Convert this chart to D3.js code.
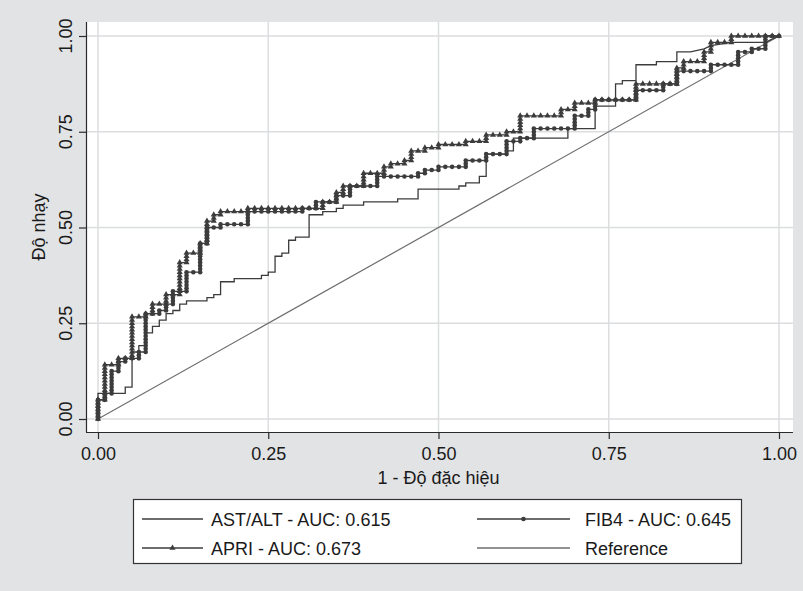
<!DOCTYPE html>
<html>
<head>
<meta charset="utf-8">
<script src="https://cdn.jsdelivr.net/npm/d3@7"></script>
<style>
  body { margin: 0; background: #e2e3e5; }
  text { font-family: "Liberation Sans", Arial, sans-serif; fill: #1a1a1a; }
</style>
</head>
<body>
<div id="chart"></div>
<script>
// number of negatives / positives (one ROC step = one subject)
const nNeg = 100, nPos = 120;

// ROC corners as [false positives, true positives]
const astAltCorners = [[0,0],[0,8],[4,8],[4,10],[5,10],[5,21],[6,21],[6,23],[7,23],[7,27],[8,27],[8,29],[9,29],[9,31],[10,31],[10,33],[11,33],[11,34],[12,34],[12,36],[13,36],[13,37],[16,37],[16,38],[17,38],[17,39],[18,39],[18,43],[20,43],[20,44],[24,44],[24,45],[25,45],[25,46],[26,46],[26,51],[27,51],[27,52],[28,52],[28,56],[29,56],[29,57],[31,57],[31,64],[33,64],[33,65],[35,65],[35,66],[36,66],[36,67],[39,67],[39,68],[44,68],[44,69],[47,69],[47,72],[53,72],[53,73],[54,73],[54,74],[56,74],[56,76],[57,76],[57,83],[60,83],[60,84],[61,84],[61,88],[69,88],[69,91],[73,91],[73,98],[76,98],[76,105],[77,105],[77,106],[79,106],[79,111],[82,111],[82,112],[85,112],[85,115],[87,115],[89,116],[90,117],[93,118],[98,118],[99,119],[100,120]];

const fib4Corners = [[0,0],[0,6],[1,6],[1,8],[2,8],[2,15],[3,15],[3,18],[4,18],[4,19],[6,19],[6,21],[7,21],[7,33],[9,33],[9,34],[10,34],[10,36],[11,36],[11,40],[13,40],[13,46],[15,46],[15,55],[16,55],[16,60],[18,60],[18,61],[22,61],[22,65],[30,65],[30,66],[32,66],[32,68],[35,68],[35,70],[37,70],[37,73],[41,73],[41,76],[47,76],[47,77],[48,77],[48,78],[50,78],[50,79],[54,79],[54,81],[57,81],[57,83],[60,83],[60,87],[62,87],[62,88],[64,88],[64,91],[70,91],[70,95],[72,95],[72,97],[73,97],[73,100],[79,100],[79,103],[83,103],[83,105],[85,105],[85,109],[90,109],[90,111],[94,111],[94,115],[96,115],[96,116],[98,116],[98,120],[100,120]];

const apriCorners = [[0,0],[0,6],[1,6],[1,17],[3,17],[3,19],[5,19],[5,32],[7,32],[7,33],[8,33],[8,36],[10,36],[10,39],[12,39],[12,49],[13,49],[13,52],[15,52],[15,55],[16,55],[16,62],[17,62],[17,64],[18,64],[18,65],[22,65],[22,66],[33,66],[33,68],[35,68],[35,71],[36,71],[36,73],[39,73],[39,77],[42,77],[42,79],[43,79],[43,80],[45,80],[45,81],[46,81],[46,84],[48,84],[48,85],[50,85],[50,86],[54,86],[54,87],[57,87],[57,89],[60,89],[60,90],[62,90],[62,95],[68,95],[68,97],[70,97],[70,99],[73,99],[73,100],[79,100],[79,105],[85,105],[85,110],[86,110],[86,112],[89,112],[89,115],[90,115],[90,118],[93,118],[93,120],[100,120]];

const tickValues = [0, 0.25, 0.5, 0.75, 1];
const legendLabels = ["AST/ALT - AUC: 0.615", "FIB4 - AUC: 0.645", "APRI - AUC: 0.673", "Reference"];

const W = 803, H = 591;
const curveColor = "#3c3c3c";
const fontSize = 18;

const svg = d3.select("#chart").append("svg")
    .attr("width", W)
    .attr("height", H);

svg.append("rect").attr("width", W).attr("height", H).attr("fill", "#e2e3e5");

// plot region
const region = {left: 86, right: 793, top: 22, bottom: 432};
const x = d3.scaleLinear().domain([0, 1]).range([98, 779]);
const y = d3.scaleLinear().domain([0, 1]).range([419, 36]);

svg.append("rect")
    .attr("x", region.left).attr("y", region.top)
    .attr("width", region.right - region.left)
    .attr("height", region.bottom - region.top)
    .attr("fill", "#ffffff");

// grid
svg.append("g").selectAll("line")
    .data(tickValues).enter().append("line")
    .attr("x1", d => x(d)).attr("x2", d => x(d))
    .attr("y1", region.top).attr("y2", region.bottom)
    .attr("stroke", "#dcdddf").attr("stroke-width", 1.5);
svg.append("g").selectAll("line")
    .data(tickValues).enter().append("line")
    .attr("y1", d => y(d)).attr("y2", d => y(d))
    .attr("x1", region.left).attr("x2", region.right)
    .attr("stroke", "#dcdddf").attr("stroke-width", 1.5);

// axes
const fmt = d3.format(".2f");
const xAxis = svg.append("g")
    .attr("transform", "translate(0," + region.bottom + ")")
    .call(d3.axisBottom(x).tickValues(tickValues).tickFormat(fmt).tickSize(7).tickPadding(8));
xAxis.select(".domain").attr("d", "M" + region.left + ",0.5H" + region.right);

const yAxis = svg.append("g")
    .attr("transform", "translate(" + region.left + ",0)")
    .call(d3.axisLeft(y).tickValues(tickValues).tickFormat(fmt).tickSize(7).tickPadding(6));
yAxis.select(".domain").attr("d", "M0.5," + region.top + "V" + region.bottom);

svg.selectAll(".domain, .tick line").attr("stroke", "#2a2a2a").attr("stroke-width", 1.2);
svg.selectAll(".tick text").attr("font-size", fontSize).attr("fill", "#1a1a1a")
    .style("font-family", "'Liberation Sans', Arial, sans-serif");

// y tick labels are rotated, centred on their tick
yAxis.selectAll(".tick").attr("transform", null);
yAxis.selectAll(".tick line").attr("transform", d => "translate(0," + (y(d) + 0.5) + ")");
yAxis.selectAll(".tick text")
    .attr("x", 0).attr("y", 0).attr("dy", 0)
    .style("text-anchor", "middle")
    .attr("transform", d => "translate(-14," + y(d) + ") rotate(-90)");

// axis titles
svg.append("text")
    .attr("x", x(0.5)).attr("y", 484)
    .attr("text-anchor", "middle").attr("font-size", fontSize)
    .text("1 - Độ đặc hiệu");
svg.append("text")
    .attr("transform", "translate(45,227) rotate(-90)")
    .attr("text-anchor", "middle").attr("font-size", fontSize)
    .text("Độ nhạy");

// one cutoff per subject along straight runs of the ROC staircase
function cutoffs(corners) {
    const pts = [corners[0]];
    for (let i = 1; i < corners.length; i++) {
        const [x0, y0] = corners[i - 1], [x1, y1] = corners[i];
        if (x0 === x1 || y0 === y1) {
            const n = Math.max(Math.abs(x1 - x0), Math.abs(y1 - y0));
            for (let k = 1; k <= n; k++) pts.push([x0 + (x1 - x0) * k / n, y0 + (y1 - y0) * k / n]);
        } else {
            pts.push(corners[i]);
        }
    }
    return pts;
}

const line = d3.line()
    .x(d => x(d[0] / nNeg))
    .y(d => y(d[1] / nPos));

// reference diagonal
svg.append("path")
    .datum([[0, 0], [nNeg, nPos]])
    .attr("d", line)
    .attr("fill", "none").attr("stroke", "#6e6e6e").attr("stroke-width", 1.2);

[astAltCorners, fib4Corners, apriCorners].forEach(c => {
    svg.append("path")
        .datum(c)
        .attr("d", line)
        .attr("fill", "none").attr("stroke", curveColor).attr("stroke-width", 1.3);
});

svg.append("g").selectAll("circle")
    .data(cutoffs(fib4Corners)).enter().append("circle")
    .attr("cx", d => x(d[0] / nNeg)).attr("cy", d => y(d[1] / nPos))
    .attr("r", 2.3).attr("fill", curveColor);

const tri = d3.symbol().type(d3.symbolTriangle).size(16);
svg.append("g").selectAll("path")
    .data(cutoffs(apriCorners)).enter().append("path")
    .attr("d", tri)
    .attr("transform", d => "translate(" + x(d[0] / nNeg) + "," + y(d[1] / nPos) + ")")
    .attr("fill", curveColor);

// legend
const legend = svg.append("g");
legend.append("rect")
    .attr("x", 133.5).attr("y", 499.5).attr("width", 608).attr("height", 64)
    .attr("fill", "#ffffff").attr("stroke", "#333333").attr("stroke-width", 1.2);

const legendItems = [
    {label: legendLabels[0], col: 0, row: 0, marker: null, color: curveColor},
    {label: legendLabels[1], col: 1, row: 0, marker: "circle", color: curveColor},
    {label: legendLabels[2], col: 0, row: 1, marker: "triangle", color: curveColor},
    {label: legendLabels[3], col: 1, row: 1, marker: null, color: "#6e6e6e"}
];
// key line start/end and label start per column
const cols = [{x0: 142, x1: 203, tx: 211}, {x0: 477, x1: 570, tx: 585}];
const rowY = [519, 548];

legendItems.forEach(it => {
    const c = cols[it.col], yy = rowY[it.row];
    legend.append("line")
        .attr("x1", c.x0).attr("x2", c.x1).attr("y1", yy).attr("y2", yy)
        .attr("stroke", it.color).attr("stroke-width", 1.3);
    if (it.marker === "circle") {
        legend.append("circle").attr("cx", (c.x0 + c.x1) / 2).attr("cy", yy).attr("r", 2.3).attr("fill", curveColor);
    } else if (it.marker === "triangle") {
        legend.append("path").attr("d", tri)
            .attr("transform", "translate(" + (c.x0 + c.x1) / 2 + "," + yy + ")")
            .attr("fill", curveColor);
    }
    legend.append("text")
        .attr("x", c.tx).attr("y", yy + 6.5)
        .attr("font-size", fontSize)
        .text(it.label);
});
</script>
</body>
</html>
